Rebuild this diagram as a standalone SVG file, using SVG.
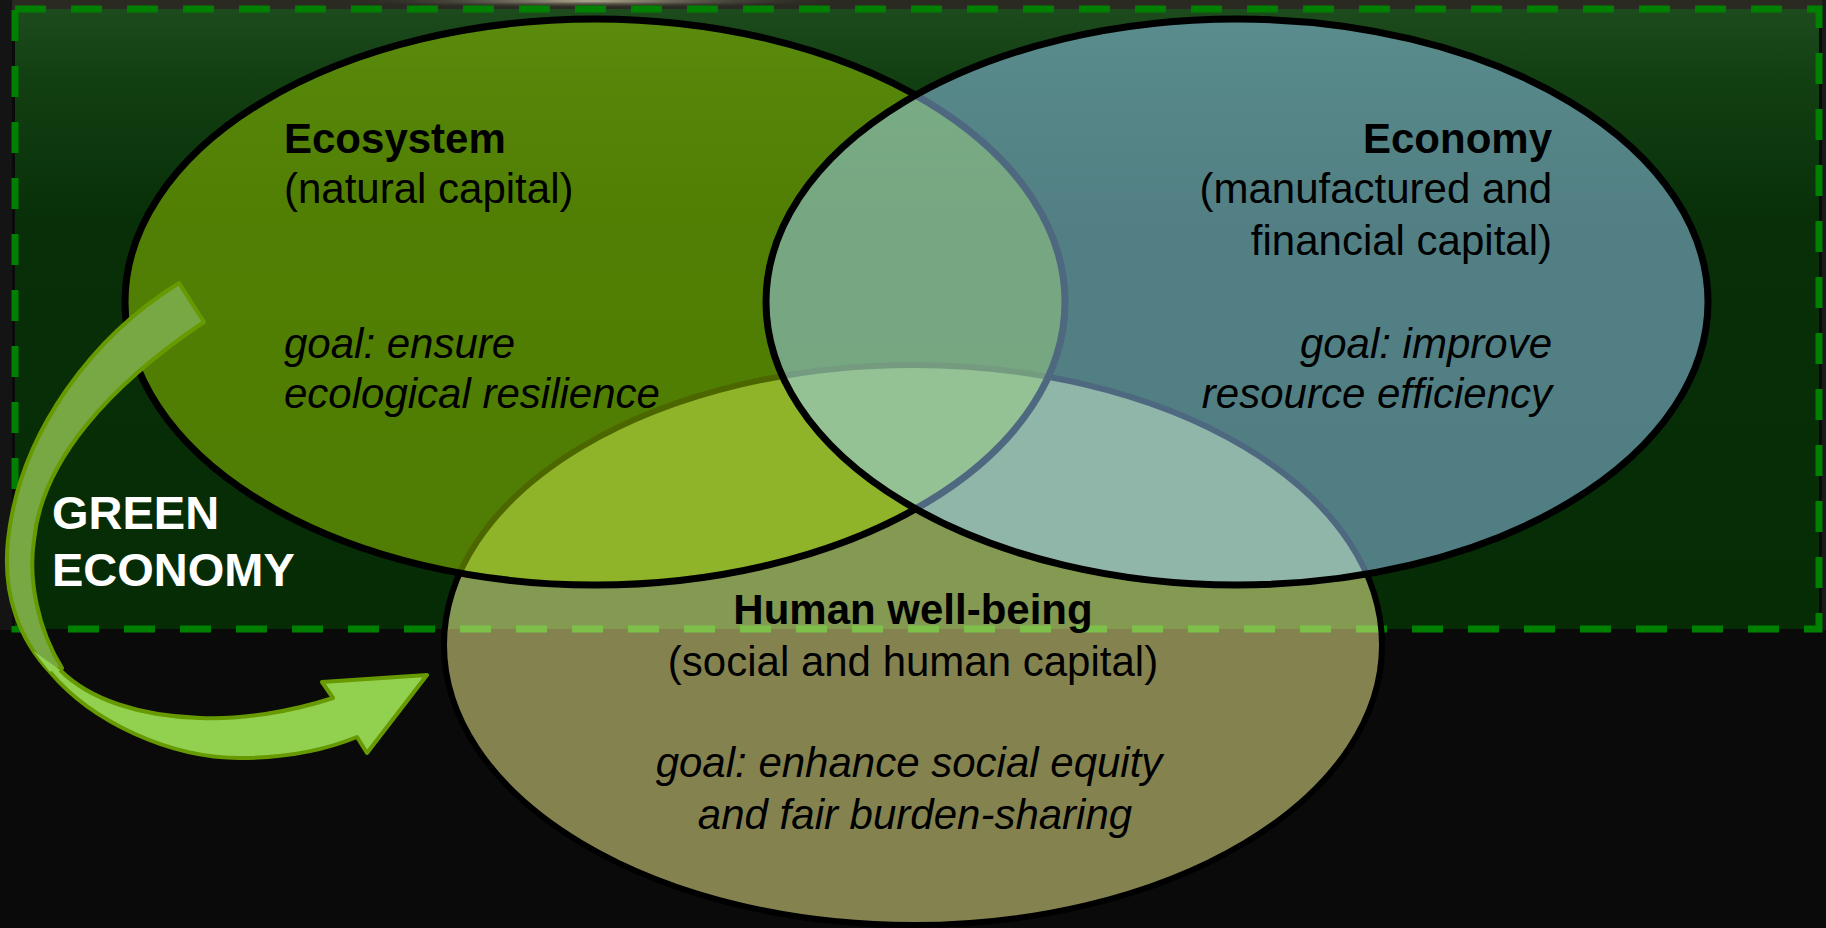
<svg xmlns="http://www.w3.org/2000/svg" width="1826" height="928" viewBox="0 0 1826 928">
  <defs>
    <style>
      .t { font-family: "Liberation Sans", Arial, sans-serif; font-size: 42px; fill: #000; }
      .b { font-weight: bold; }
      .i { font-style: italic; }
      .ge { font-family: "Liberation Sans", Arial, sans-serif; font-size: 47px; font-weight: bold; fill: #fff; }
      .dash { fill: none; stroke-width: 7; stroke-dasharray: 31 25; }
    </style>
    <linearGradient id="rectFill" x1="0" y1="0" x2="0" y2="1">
      <stop offset="0" stop-color="#1d4b1d"/>
      <stop offset="0.12" stop-color="#123f12"/>
      <stop offset="0.35" stop-color="#082f08"/>
      <stop offset="1" stop-color="#062c06"/>
    </linearGradient>
    <radialGradient id="smudge" cx="0.5" cy="0.5" r="0.5">
      <stop offset="0" stop-color="#b8b098"/>
      <stop offset="1" stop-color="#2a2a22" stop-opacity="0"/>
    </radialGradient>
    <clipPath id="clipRect">
      <rect x="15" y="9" width="1804" height="620"/>
    </clipPath>
    <clipPath id="clipHuman">
      <ellipse cx="913" cy="645" rx="469" ry="280"/>
    </clipPath>
  </defs>

  <g id="background">
    <rect x="0" y="0" width="1826" height="928" fill="#0a0a0a"/>
    <rect x="0" y="0" width="1826" height="10" fill="#2a2922"/>
    <ellipse cx="590" cy="1" rx="260" ry="7" fill="url(#smudge)"/>
    <rect x="0" y="0" width="12" height="630" fill="#141414"/>
    <rect x="1822" y="0" width="4" height="630" fill="#1a1a1a"/>
    <rect x="15" y="9" width="1804" height="620" fill="url(#rectFill)"/>
    <rect x="15" y="9" width="1804" height="620" class="dash" stroke="#008000"/>
  </g>

  <g id="node-human">
    <ellipse cx="913" cy="645" rx="469" ry="280" fill="#848350"/>
    <ellipse cx="913" cy="645" rx="469" ry="280" fill="#849a52" clip-path="url(#clipRect)"/>
    <g clip-path="url(#clipHuman)">
      <rect x="15" y="9" width="1804" height="620" class="dash" stroke="#7cc04a"/>
    </g>
    <ellipse cx="913" cy="645" rx="469" ry="280" fill="none" stroke="#000" stroke-width="6"/>
  </g>

  <g id="node-ecosystem">
    <ellipse cx="595" cy="302" rx="470" ry="283" fill="#99cd00" fill-opacity="0.5" stroke="#000" stroke-width="7"/>
  </g>

  <g id="node-economy">
    <ellipse cx="1237" cy="302" rx="471" ry="283" fill="#9ccfff" fill-opacity="0.5" stroke="#000" stroke-width="7"/>
  </g>

  <g id="connectors">
    <path d="M179,283 C95,335 20,430 8,540 C2,595 20,640 50,672 L62,668 C38,630 28,580 34,540 C42,460 110,385 204,322 Z" fill="#77a843" stroke="#679a00" stroke-width="4" stroke-linejoin="round"/>
    <path d="M33.5,651 L50,672 C92,722 170,758 240,758 C290,758 330,748 357,737 L367,753 L427,675 L322,682 L333,698 C290,712 240,720 200,718 C140,716 90,700 60,670 Z" fill="#92d050"/>
    <path d="M50,672 C92,722 170,758 240,758 C290,758 330,748 357,737 L367,753 L427,675 L322,682 L333,698 C290,712 240,720 200,718 C140,716 90,700 60,670" fill="none" stroke="#679a00" stroke-width="4" stroke-linejoin="round"/>
  </g>

  <g id="label-ecosystem">
    <text class="t b" x="284" y="153">Ecosystem</text>
    <text class="t" x="284" y="203">(natural capital)</text>
    <text class="t i" x="284" y="358">goal: ensure</text>
    <text class="t i" x="284" y="408">ecological resilience</text>
  </g>

  <g id="label-economy" text-anchor="end">
    <text class="t b" x="1552" y="153">Economy</text>
    <text class="t" x="1552" y="203">(manufactured and</text>
    <text class="t" x="1552" y="255">financial capital)</text>
    <text class="t i" x="1552" y="358">goal: improve</text>
    <text class="t i" x="1552" y="408">resource efficiency</text>
  </g>

  <g id="label-human" text-anchor="middle">
    <text class="t b" x="913" y="624">Human well-being</text>
    <text class="t" x="913" y="676">(social and human capital)</text>
    <text class="t i" x="909" y="777">goal: enhance social equity</text>
    <text class="t i" x="915" y="829">and fair burden-sharing</text>
  </g>

  <g id="label-green-economy">
    <text class="ge" x="52" y="529">GREEN</text>
    <text class="ge" x="52" y="586">ECONOMY</text>
  </g>
</svg>
